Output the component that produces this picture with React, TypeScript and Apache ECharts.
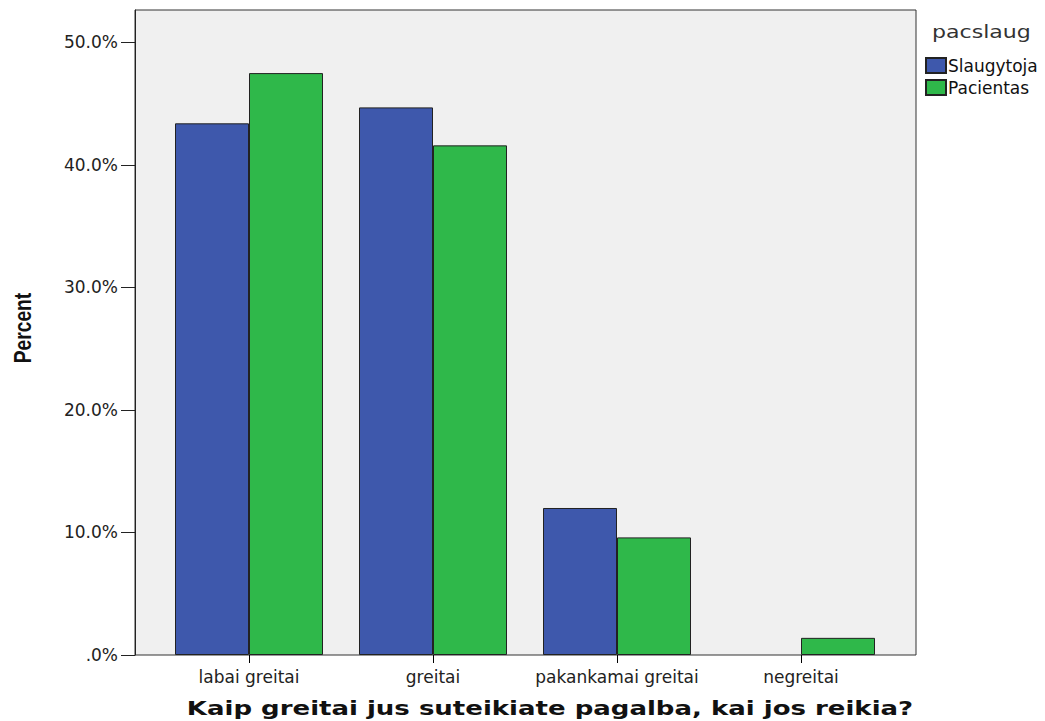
import React, { useEffect, useRef } from "react";
import * as echarts from "echarts";

const categories = ["labai greitai", "greitai", "pakankamai greitai", "negreitai"];
const slaugytoja = [43.4, 44.7, 12.0, null];
const pacientas = [47.5, 41.6, 9.6, 1.4];
const seriesNames = ["Slaugytoja", "Pacientas"];
const legendTitle = "pacslaug";
const yTitle = "Percent";
const xTitle = "Kaip greitai jus suteikiate pagalba, kai jos reikia?";

const Y_MAX = 52.65;

export default function App() {
  const ref = useRef<HTMLDivElement>(null);
  useEffect(() => {
    document.body.style.margin = "0";
    const chart = echarts.init(ref.current!, null, { renderer: "svg" });
    const font = "DejaVu Sans, Verdana, sans-serif";
    chart.setOption({
      animation: false,
      backgroundColor: "#ffffff",
      grid: [
        { left: 135, top: 10, width: 781, height: 645, show: true, backgroundColor: "#f0f0f0", borderColor: "#333", borderWidth: 1 },
        { left: 157, top: 10, width: 736, height: 645 },
      ],
      xAxis: [
        { type: "value", gridIndex: 0, show: false, min: 0, max: 1 },
        {
          type: "category",
          gridIndex: 1,
          data: categories,
          axisLine: { show: false },
          axisTick: { show: true, interval: 0, alignWithLabel: true, length: 8, lineStyle: { color: "#000", width: 1 } },
          axisLabel: { interval: 0, color: "#222", fontFamily: font, fontSize: 17, margin: 13 },
        },
      ],
      yAxis: [
        {
          type: "value",
          gridIndex: 0,
          min: 0,
          max: Y_MAX,
          interval: 10,
          splitLine: { show: false },
          axisLine: { show: true, lineStyle: { color: "#222", width: 1 } },
          axisTick: { show: true, length: 14, lineStyle: { color: "#222" } },
          axisLabel: {
            color: "#222",
            fontFamily: font,
            fontSize: 17,
            margin: 17,
            showMaxLabel: false,
            formatter: (v: number) => (v === 0 ? ".0%" : v.toFixed(1) + "%"),
          },
        },
        { type: "value", gridIndex: 1, min: 0, max: Y_MAX, show: false, splitLine: { show: false } },
      ],
      legend: {
        orient: "vertical",
        left: 920,
        top: 52,
        itemWidth: 20,
        itemHeight: 15,
        itemGap: 5,
        icon: "rect",
        data: seriesNames,
        textStyle: { fontFamily: font, fontSize: 17, color: "#111", padding: [0, 0, 0, -3] },
      },
      graphic: [
        { type: "text", x: 932, y: 32, scaleX: 1.3, style: { text: legendTitle, font: "17px " + font, fill: "#333", verticalAlign: "middle" } },
        {
          type: "text",
          x: 23,
          y: 328,
          rotation: Math.PI / 2,
          scaleX: 0.8,
          style: { text: yTitle, font: "bold 24px 'Liberation Sans', Arial, sans-serif", fill: "#111", align: "center", verticalAlign: "middle" },
        },
        {
          type: "text",
          x: 550,
          y: 708,
          scaleX: 1.3,
          style: { text: xTitle, font: "bold 20px " + font, fill: "#111", align: "center", verticalAlign: "middle" },
        },
      ],
      series: [
        {
          name: seriesNames[0],
          type: "bar",
          xAxisIndex: 1,
          yAxisIndex: 1,
          data: slaugytoja,
          barWidth: 74,
          barGap: "0%",
          itemStyle: { color: "#3e58ac", borderColor: "#222", borderWidth: 1 },
        },
        {
          name: seriesNames[1],
          type: "bar",
          xAxisIndex: 1,
          yAxisIndex: 1,
          data: pacientas,
          barWidth: 74,
          barGap: "0%",
          itemStyle: { color: "#2fb84a", borderColor: "#222", borderWidth: 1 },
        },
      ],
    });
    return () => chart.dispose();
  }, []);
  return <div ref={ref} style={{ width: 1045, height: 721 }} />;
}
